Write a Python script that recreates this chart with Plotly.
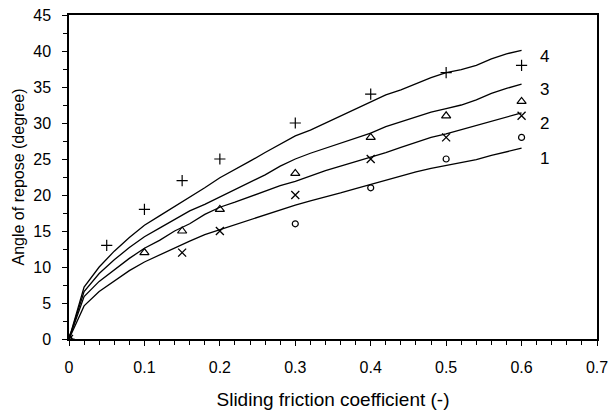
import plotly.graph_objects as go

# Simulated curves (sliding friction coefficient vs angle of repose)
x_curve = [0.00, 0.02, 0.04, 0.06, 0.08, 0.10, 0.12, 0.14, 0.16, 0.18, 0.20,
           0.22, 0.24, 0.26, 0.28, 0.30, 0.32, 0.34, 0.36, 0.38, 0.40,
           0.42, 0.44, 0.46, 0.48, 0.50, 0.52, 0.54, 0.56, 0.58, 0.60]
curve_4 = [0, 7.2, 10.0, 12.2, 14.1, 15.8, 17.1, 18.4, 19.6, 21.0, 22.4,
           23.5, 24.7, 25.9, 27.0, 28.2, 29.0, 30.0, 31.0, 32.0, 32.9,
           33.9, 34.6, 35.5, 36.3, 37.0, 37.4, 38.0, 38.9, 39.6, 40.1]
curve_3 = [0, 6.6, 9.1, 11.0, 12.7, 14.2, 15.4, 16.6, 17.8, 18.7, 19.7,
           20.7, 21.7, 22.8, 24.0, 25.0, 25.8, 26.5, 27.3, 27.9, 28.6,
           29.5, 30.2, 30.8, 31.5, 32.0, 32.5, 33.2, 34.1, 34.8, 35.4]
curve_2 = [0, 5.9, 8.0, 9.6, 11.2, 12.6, 13.7, 15.0, 16.0, 17.3, 18.3,
           19.0, 19.8, 20.6, 21.3, 21.9, 22.7, 23.4, 24.0, 24.6, 25.2,
           25.9, 26.6, 27.3, 28.0, 28.5, 29.1, 29.7, 30.3, 30.9, 31.4]
curve_1 = [0, 4.6, 6.6, 8.1, 9.5, 10.7, 11.7, 12.7, 13.6, 14.5, 15.2,
           15.9, 16.6, 17.3, 18.0, 18.6, 19.2, 19.7, 20.3, 20.9, 21.5,
           22.1, 22.7, 23.2, 23.7, 24.1, 24.4, 24.9, 25.5, 26.0, 26.5]

# Measured points
x_plus = [0, 0.05, 0.1, 0.15, 0.2, 0.3, 0.4, 0.5, 0.6]
y_plus = [0, 13, 18, 22, 25, 30, 34, 37, 38]
x_tri = [0, 0.1, 0.15, 0.2, 0.3, 0.4, 0.5, 0.6]
y_tri = [0, 12, 15, 18, 23, 28, 31, 33]
x_cross = [0, 0.15, 0.2, 0.3, 0.4, 0.5, 0.6]
y_cross = [0, 12, 15, 20, 25, 28, 31]
x_circ = [0, 0.3, 0.4, 0.5, 0.6]
y_circ = [0, 16, 21, 25, 28]

curve_labels = ["4", "3", "2", "1"]
label_x = [0.631, 0.631, 0.631, 0.631]
label_y = [39.2, 34.7, 29.9, 25.1]

FONT = "Liberation Sans, Arial, sans-serif"

fig = go.Figure()
for yc in [curve_4, curve_3, curve_2, curve_1]:
    fig.add_trace(go.Scatter(x=x_curve, y=yc, mode="lines",
                             line=dict(color="black", width=1.3),
                             showlegend=False, hoverinfo="skip"))

fig.add_trace(go.Scatter(x=x_plus, y=y_plus, mode="markers",
                         marker=dict(symbol="cross-thin", size=8, color="black",
                                     line=dict(color="black", width=1.2)),
                         showlegend=False))
fig.add_trace(go.Scatter(x=x_tri, y=y_tri, mode="markers",
                         marker=dict(symbol="triangle-up-open", size=8, color="black",
                                     line=dict(color="black", width=1.2)),
                         showlegend=False))
fig.add_trace(go.Scatter(x=x_cross, y=y_cross, mode="markers",
                         marker=dict(symbol="x-thin", size=8, color="black",
                                     line=dict(color="black", width=1.3)),
                         showlegend=False))
fig.add_trace(go.Scatter(x=x_circ, y=y_circ, mode="markers",
                         marker=dict(symbol="circle-open", size=6, color="black",
                                     line=dict(color="black", width=1.2)),
                         showlegend=False))

for t, lx, ly in zip(curve_labels, label_x, label_y):
    fig.add_annotation(x=lx, y=ly, text=t, showarrow=False, xanchor="center",
                       yanchor="middle", font=dict(family=FONT, size=17, color="black"))

fig.update_layout(
    width=610, height=412,
    margin=dict(l=69, r=13, t=15, b=73),
    paper_bgcolor="white", plot_bgcolor="white",
    font=dict(family=FONT, size=16, color="black"),
)
fig.update_xaxes(
    range=[0, 0.7], dtick=0.1, tick0=0, tickformat=".1~f",
    showgrid=False, zeroline=False, automargin=False,
    showline=True, linecolor="black", linewidth=1.5, mirror=True,
    ticks="outside", ticklen=5, tickwidth=1.2, tickcolor="black",
    ticklabelstandoff=8, tickfont=dict(family=FONT, size=16),
    minor=dict(dtick=0.02, ticks="outside", ticklen=4, tickwidth=1.2, tickcolor="black"),
    title=dict(text="Sliding friction coefficient (-)", standoff=18,
               font=dict(family=FONT, size=19)),
)
fig.update_yaxes(
    range=[0, 45], dtick=5, tick0=0,
    showgrid=False, zeroline=False, automargin=False,
    showline=True, linecolor="black", linewidth=1.5, mirror=True,
    ticks="outside", ticklen=5, tickwidth=1.2, tickcolor="black",
    ticklabelstandoff=8, tickfont=dict(family=FONT, size=16),
    minor=dict(dtick=2.5, ticks="outside", ticklen=4, tickwidth=1.2, tickcolor="black"),
    title=dict(text="Angle of repose (degree)", standoff=5,
               font=dict(family=FONT, size=16)),
)

fig.write_html("out.html")
